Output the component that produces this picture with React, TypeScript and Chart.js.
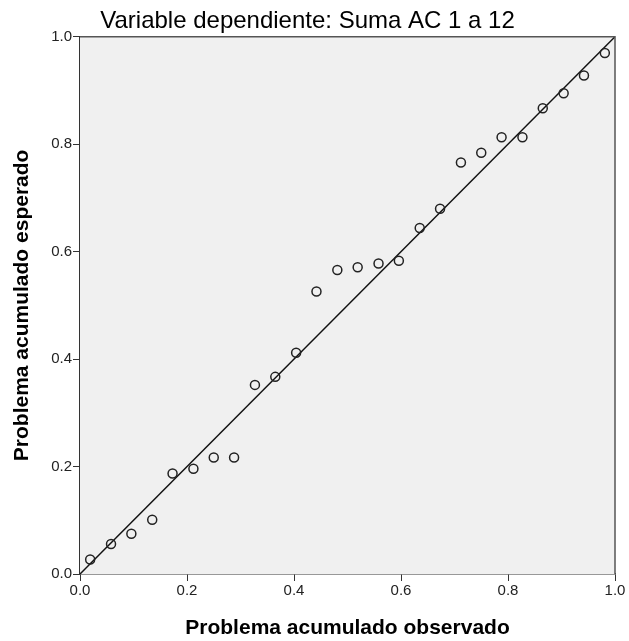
import React, { useEffect, useRef } from "react";
import { Chart, registerables } from "chart.js";

Chart.register(...registerables);

const observedP = [
  0.019, 0.058, 0.096, 0.135, 0.173, 0.212, 0.25, 0.288, 0.327, 0.365, 0.404,
  0.442, 0.481, 0.519, 0.558, 0.596, 0.635, 0.673, 0.712, 0.75, 0.788, 0.827,
  0.865, 0.904, 0.942, 0.981,
];
const expectedP = [
  0.027, 0.056, 0.075, 0.101, 0.187, 0.196, 0.217, 0.217, 0.352, 0.367, 0.412,
  0.526, 0.566, 0.571, 0.578, 0.583, 0.644, 0.68, 0.766, 0.784, 0.813, 0.813,
  0.867, 0.895, 0.928, 0.97,
];
const refLineX = [0, 1];
const refLineY = [0, 1];
const tickValues = [0, 0.2, 0.4, 0.6, 0.8, 1.0];

const titleText = "Variable dependiente: Suma AC 1 a 12";
const xTitle = "Problema acumulado observado";
const yTitle = "Problema acumulado esperado";

const FONT = "'Liberation Sans', Arial, sans-serif";

export default function App() {
  const ref = useRef<HTMLCanvasElement>(null);
  useEffect(() => {
    document.body.style.margin = "0";
    const ctx = ref.current!;
    const bgPlugin = {
      id: "bgPlugin",
      beforeDatasetsDraw(chart: any) {
        const { ctx, chartArea } = chart;
        ctx.save();
        ctx.fillStyle = "#f0f0f0";
        ctx.fillRect(chartArea.left, chartArea.top, chartArea.right - chartArea.left, chartArea.bottom - chartArea.top);
        ctx.restore();
      },
      afterDatasetsDraw(chart: any) {
        const { ctx, chartArea } = chart;
        ctx.save();
        ctx.strokeStyle = "#555";
        ctx.lineWidth = 1.5;
        ctx.beginPath();
        ctx.moveTo(chartArea.left, chartArea.top);
        ctx.lineTo(chartArea.right, chartArea.top);
        ctx.lineTo(chartArea.right, chartArea.bottom);
        ctx.stroke();
        ctx.restore();
      },
    };
    const chart = new Chart(ctx, {
      type: "scatter",
      data: {
        datasets: [
          {
            data: observedP.map((x, i) => ({ x, y: expectedP[i] })),
            pointStyle: "circle",
            pointRadius: 4.5,
            pointBorderWidth: 1.5,
            borderColor: "#222",
            backgroundColor: "rgba(0,0,0,0)",
            showLine: false,
            order: 1,
          },
          {
            data: refLineX.map((x, i) => ({ x, y: refLineY[i] })),
            showLine: true,
            pointRadius: 0,
            borderColor: "#111",
            borderWidth: 1.5,
            order: 2,
          },
        ],
      },
      options: {
        animation: false,
        responsive: false,
        layout: { padding: { left: 0, right: 14, top: 0, bottom: 0 } },
        plugins: {
          legend: { display: false },
          tooltip: { enabled: false },
          title: {
            display: true,
            text: titleText,
            color: "#000",
            font: { family: FONT, size: 24, weight: "normal" },
            padding: { top: 7, bottom: 1 },
          },
        },
        scales: {
          x: {
            type: "linear",
            min: 0,
            max: 1,
            afterBuildTicks(axis: any) {
              axis.ticks = tickValues.map((v) => ({ value: v }));
            },
            afterFit(axis: any) {
              axis.height = 67;
            },
            ticks: {
              color: "#222",
              font: { family: FONT, size: 15 },
              padding: 1,
              maxRotation: 0,
              callback: (v: any) => Number(v).toFixed(1),
            },
            grid: { display: true, drawOnChartArea: false, drawTicks: true, tickLength: 7, color: "#333" },
            border: { display: true, color: "#333", width: 1.5 },
            title: {
              display: true,
              text: xTitle,
              color: "#000",
              font: { family: FONT, size: 21, weight: "bold" },
              padding: { top: 10, bottom: 0 },
            },
          },
          y: {
            type: "linear",
            min: 0,
            max: 1,
            afterBuildTicks(axis: any) {
              axis.ticks = tickValues.map((v) => ({ value: v }));
            },
            afterFit(axis: any) {
              axis.width = 80;
            },
            ticks: {
              color: "#222",
              font: { family: FONT, size: 15 },
              padding: 1,
              callback: (v: any) => Number(v).toFixed(1),
            },
            grid: { display: true, drawOnChartArea: false, drawTicks: true, tickLength: 7, color: "#333" },
            border: { display: true, color: "#333", width: 1.5 },
            title: {
              display: true,
              text: yTitle,
              color: "#000",
              font: { family: FONT, size: 21, weight: "bold" },
              padding: { top: 10, bottom: 0 },
            },
          },
        },
      },
      plugins: [bgPlugin],
    });
    return () => chart.destroy();
  }, []);
  return (
    <div style={{ width: 629, height: 641 }}>
      <canvas ref={ref} width={629} height={641} style={{ display: "block" }} />
    </div>
  );
}
